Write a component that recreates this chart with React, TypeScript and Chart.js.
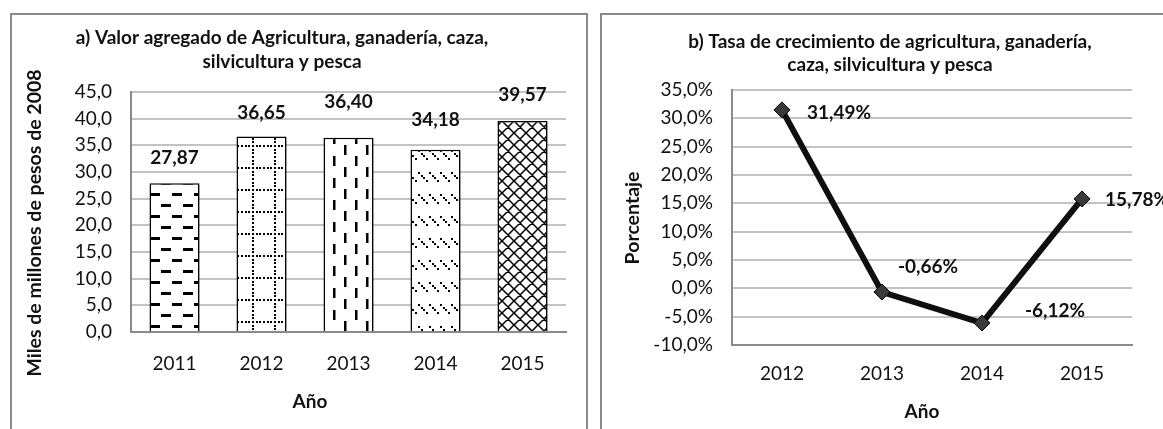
import React, { useEffect, useRef } from "react";
import { Chart, registerables } from "chart.js";
Chart.register(...registerables);

// ---------- data ----------
const barYears = ["2011", "2012", "2013", "2014", "2015"];
const barValues = [27.87, 36.65, 36.4, 34.18, 39.57];
const barValueLabels = ["27,87", "36,65", "36,40", "34,18", "39,57"];

const lineYears = ["2012", "2013", "2014", "2015"];
const lineValues = [31.49, -0.66, -6.12, 15.78];
const lineValueLabels = ["31,49%", "-0,66%", "-6,12%", "15,78%"];

const titleA = ["a) Valor agregado de Agricultura, ganadería, caza,", "silvicultura y pesca"];
const titleB = ["b) Tasa de crecimiento de agricultura, ganadería,", "caza, silvicultura y pesca"];
const yTitleA = "Miles de millones de pesos de 2008";
const yTitleB = "Porcentaje";
const xTitle = "Año";

// label placement offsets (px), relative to the drawn point
const barLabelOffsetY = [-25, -24, -36, -30, -26];
const lineLabelOffsetX = [25, 16, 43, 23];
const lineLabelOffsetY = [3, -25, -12, 1];

const FONT = "Lato, 'Open Sans', sans-serif";
const GRID = "#c3c3c3";
const AXIS = "#8a8a8a";
const TXT = "#111111";

function tile(w: number, h: number, draw: (c: CanvasRenderingContext2D) => void): CanvasPattern {
  const cv = document.createElement("canvas");
  cv.width = w;
  cv.height = h;
  const c = cv.getContext("2d")!;
  c.fillStyle = "#ffffff";
  c.fillRect(0, 0, w, h);
  c.fillStyle = "#000000";
  c.strokeStyle = "#000000";
  draw(c);
  return c.createPattern(cv, "repeat")!;
}

function makePatterns(): CanvasPattern[] {
  const p1 = tile(22, 22, (c) => {
    c.fillRect(8, 4, 10, 3);
    c.fillRect(19, 15, 3, 3);
    c.fillRect(0, 15, 7, 3);
  });
  const p2 = tile(22, 22, (c) => {
    for (let i = 0; i < 6; i++) {
      const p = Math.round((i * 22) / 6);
      c.fillRect(p, 0, 2, 2);
      c.fillRect(0, p, 2, 2);
    }
  });
  const p3 = tile(22, 22, (c) => {
    c.fillRect(4, 0, 2.5, 10);
    c.fillRect(15, 11, 2.5, 10);
  });
  const p4 = tile(11, 22, (c) => {
    const pts = [0, 3, 5, 8];
    pts.forEach((p) => c.fillRect(1 + p, 5 + p, 2, 2));
  });
  const p5 = tile(12, 12, (c) => {
    c.lineWidth = 1.5;
    c.beginPath();
    for (let k = -1; k <= 1; k++) {
      c.moveTo(-2, -2 + 12 * k);
      c.lineTo(14, 14 + 12 * k);
      c.moveTo(-2, 14 + 12 * k);
      c.lineTo(14, -2 + 12 * k);
    }
    c.stroke();
  });
  return [p1, p2, p3, p4, p5];
}

type TextItem = { text: string; x: number; y: number; font: string; rotate?: boolean };

function textPlugin(items: TextItem[]) {
  return {
    id: "statictext",
    afterDraw(chart: any) {
      const ctx = chart.ctx as CanvasRenderingContext2D;
      items.forEach((it) => {
        ctx.save();
        ctx.fillStyle = TXT;
        ctx.font = it.font;
        ctx.textAlign = "center";
        ctx.textBaseline = "middle";
        ctx.translate(it.x, it.y);
        if (it.rotate) ctx.rotate(-Math.PI / 2);
        ctx.fillText(it.text, 0, 0);
        ctx.restore();
      });
    },
  };
}

const fmt = (v: number) => v.toFixed(1).replace(".", ",");

function BarPanel() {
  const ref = useRef<HTMLCanvasElement | null>(null);
  useEffect(() => {
    const patterns = makePatterns();
    const shadow = {
      id: "shadow",
      beforeDatasetsDraw(chart: any) {
        const ctx = chart.ctx;
        ctx.save();
        ctx.shadowColor = "rgba(0,0,0,0.35)";
        ctx.shadowOffsetX = 2;
        ctx.shadowOffsetY = 2;
        ctx.shadowBlur = 2;
      },
      afterDatasetsDraw(chart: any) {
        chart.ctx.restore();
      },
    };
    const valueLabels = {
      id: "valuelabels",
      afterDatasetsDraw(chart: any) {
        const ctx = chart.ctx as CanvasRenderingContext2D;
        const meta = chart.getDatasetMeta(0);
        ctx.save();
        ctx.fillStyle = TXT;
        ctx.font = `bold 19px ${FONT}`;
        ctx.textAlign = "center";
        ctx.textBaseline = "middle";
        meta.data.forEach((el: any, i: number) => {
          ctx.fillText(barValueLabels[i], el.x, el.y + barLabelOffsetY[i]);
        });
        ctx.restore();
      },
    };
    const chart = new Chart(ref.current!, {
      type: "bar",
      data: {
        labels: barYears,
        datasets: [
          {
            data: barValues,
            backgroundColor: patterns as any,
            borderColor: "#000000",
            borderWidth: 1.5,
            barPercentage: 0.575,
            categoryPercentage: 1,
          },
        ],
      },
      options: {
        responsive: false,
        animation: false,
        layout: { padding: { top: 79, left: 0, right: 21, bottom: 0 } },
        plugins: { legend: { display: false }, tooltip: { enabled: false }, title: { display: false } },
        scales: {
          x: {
            grid: { display: false, drawTicks: false },
            border: { color: AXIS, width: 2 },
            ticks: { color: TXT, font: { family: FONT, size: 19 }, padding: 20 },
            afterFit: (s: any) => {
              s.height = 97;
            },
          },
          y: {
            min: 0,
            max: 45,
            grid: { color: GRID, lineWidth: 2, drawTicks: false },
            border: { color: AXIS, width: 2 },
            ticks: { stepSize: 5, color: TXT, font: { family: FONT, size: 19 }, padding: 19, callback: (v: any) => fmt(Number(v)) },
            afterFit: (s: any) => {
              s.width = 121;
            },
          },
        },
      },
      plugins: [
        shadow,
        valueLabels,
        textPlugin([
          { text: titleA[0], x: 272, y: 25, font: `bold 19px ${FONT}` },
          { text: titleA[1], x: 272, y: 49, font: `bold 19px ${FONT}` },
          { text: yTitleA, x: 25, y: 210, font: `bold 19.5px ${FONT}`, rotate: true },
          { text: xTitle, x: 300, y: 389, font: `bold 19px ${FONT}` },
        ]),
      ],
    });
    return () => chart.destroy();
  }, []);
  return (
    <canvas
      ref={ref}
      width={577}
      height={416}
      style={{ position: "absolute", left: 10, top: 13, width: 577, height: 416 }}
    />
  );
}

function LinePanel() {
  const ref = useRef<HTMLCanvasElement | null>(null);
  useEffect(() => {
    const valueLabels = {
      id: "valuelabels",
      afterDatasetsDraw(chart: any) {
        const ctx = chart.ctx as CanvasRenderingContext2D;
        const meta = chart.getDatasetMeta(0);
        ctx.save();
        ctx.fillStyle = TXT;
        ctx.font = `bold 19px ${FONT}`;
        ctx.textAlign = "left";
        ctx.textBaseline = "middle";
        meta.data.forEach((el: any, i: number) => {
          ctx.fillText(lineValueLabels[i], el.x + lineLabelOffsetX[i], el.y + lineLabelOffsetY[i]);
        });
        ctx.restore();
      },
    };
    const chart = new Chart(ref.current!, {
      type: "line",
      data: {
        labels: lineYears,
        datasets: [
          {
            data: lineValues,
            borderColor: "#0f0f0f",
            borderWidth: 6,
            tension: 0,
            pointStyle: "rectRot",
            pointRadius: 8,
            pointBackgroundColor: "#3a3a3a",
            pointBorderColor: "#000000",
            pointBorderWidth: 1,
            clip: false as any,
          },
        ],
      },
      options: {
        responsive: false,
        animation: false,
        layout: { padding: { top: 77, left: 0, right: 31, bottom: 0 } },
        plugins: { legend: { display: false }, tooltip: { enabled: false }, title: { display: false } },
        scales: {
          x: {
            offset: true,
            grid: { display: false, drawTicks: false, offset: true },
            border: { color: AXIS, width: 2 },
            ticks: { color: TXT, font: { family: FONT, size: 19 }, padding: 17 },
            afterFit: (s: any) => {
              s.height = 84;
            },
          },
          y: {
            min: -10,
            max: 35,
            grid: { color: GRID, lineWidth: 2, drawTicks: false },
            border: { color: AXIS, width: 2 },
            ticks: { stepSize: 5, color: TXT, font: { family: FONT, size: 19 }, padding: 19, callback: (v: any) => fmt(Number(v)) + "%" },
            afterFit: (s: any) => {
              s.width = 132;
            },
          },
        },
      },
      plugins: [
        valueLabels,
        textPlugin([
          { text: titleB[0], x: 290, y: 29, font: `bold 19px ${FONT}` },
          { text: titleB[1], x: 290, y: 52, font: `bold 19px ${FONT}` },
          { text: yTitleB, x: 33, y: 205, font: `bold 19.5px ${FONT}`, rotate: true },
          { text: xTitle, x: 322, y: 399, font: `bold 19px ${FONT}` },
        ]),
      ],
    });
    return () => chart.destroy();
  }, []);
  return (
    <canvas
      ref={ref}
      width={563}
      height={416}
      style={{ position: "absolute", left: 600, top: 13, width: 563, height: 416 }}
    />
  );
}

export default function App() {
  return (
    <div
      style={{
        position: "absolute",
        left: 0,
        top: 0,
        width: 1163,
        height: 429,
        overflow: "hidden",
        background: "#ffffff",
      }}
    >
      <div
        style={{
          position: "absolute",
          left: 10,
          top: 13,
          width: 578,
          height: 440,
          boxSizing: "border-box",
          border: `2px solid ${AXIS}`,
          borderBottom: "none",
        }}
      />
      <div
        style={{
          position: "absolute",
          left: 600,
          top: 13,
          width: 620,
          height: 440,
          boxSizing: "border-box",
          border: `2px solid ${AXIS}`,
          borderBottom: "none",
        }}
      />
      <BarPanel />
      <LinePanel />
    </div>
  );
}
